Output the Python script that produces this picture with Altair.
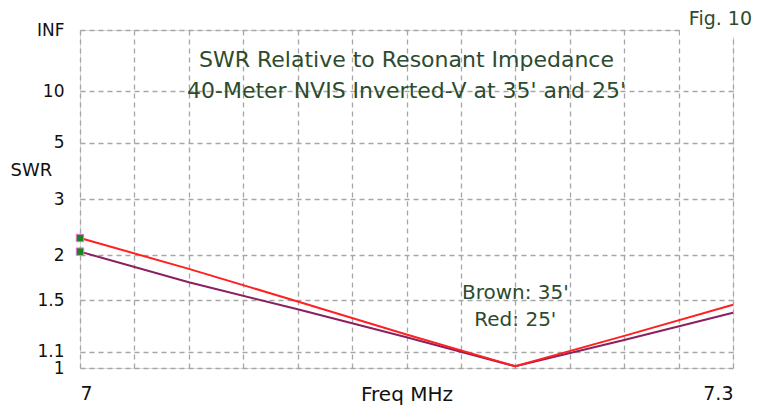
import altair as alt
import pandas as pd

# ---- data ----
freq = [7.0, 7.05, 7.1, 7.15, 7.2, 7.25, 7.3]
swr_35 = [2.05, 1.68, 1.42, 1.20, 1.01, 1.18, 1.39]   # brown
swr_25 = [2.25, 1.83, 1.49, 1.22, 1.01, 1.21, 1.46]   # red

swr_ticks = [1, 1.1, 1.5, 2, 3, 5, 10, "INF"]
grid_freqs = [7.0, 7.025, 7.05, 7.075, 7.1, 7.125, 7.15, 7.175, 7.2, 7.225, 7.25, 7.275, 7.3]

title_lines = ["SWR Relative to Resonant Impedance", "40-Meter NVIS Inverted-V at 35' and 25'"]
title_freq = [7.15, 7.15]
title_rho = [0.912, 0.820]

legend_lines = ["Brown: 35'", "Red: 25'"]
legend_freq = [7.2, 7.2]
legend_rho = [0.222, 0.141]

FONT = "DejaVu Sans"
GREEN_TXT = "#2d4b2d"
BROWN = "#8b1f5f"
RED = "#ff2020"
GRID = "#a6a6a6"

rho_ticks = [1.0 if s == "INF" else (s - 1) / (s + 1) for s in swr_ticks]

df35 = pd.DataFrame({"freq": freq, "swr": swr_35})
df25 = pd.DataFrame({"freq": freq, "swr": swr_25})
start = pd.DataFrame({"freq": [freq[0], freq[0]], "swr": [swr_35[0], swr_25[0]]})
titles = pd.DataFrame({"freq": title_freq, "rho": title_rho, "t": title_lines})
legend = pd.DataFrame({"freq": legend_freq, "rho": legend_rho, "t": legend_lines})
fig = pd.DataFrame({"t": ["Fig. 10"]})

xscale = alt.Scale(domain=[7.0, 7.3], nice=False, zero=False)
yscale = alt.Scale(domain=[0, 1], nice=False, zero=False)

x_axis = alt.Axis(
    values=grid_freqs, grid=True, gridColor=GRID, gridDash=[5, 4], gridWidth=1.3,
    ticks=False, domain=False,
    labelExpr="(datum.value < 7.001 || datum.value > 7.299) ? format(datum.value, '.1~f') : ''",
    labelFlush=True, labelFont=FONT, labelFontSize=19, labelColor="#111111",
    labelPadding=16, labelBaseline="top", labelOverlap=False,
    title="Freq MHz", titleFont=FONT, titleFontSize=20, titleFontWeight="normal",
    titleColor="#111111", titleY=16, titleBaseline="top",
)
y_axis = alt.Axis(
    values=rho_ticks, grid=True, gridColor=GRID, gridDash=[5, 4], gridWidth=1.3,
    ticks=False, domain=False,
    labelExpr="datum.value > 0.999 ? 'INF' : format((1 + datum.value) / (1 - datum.value), '.2~f')",
    labelFont=FONT, labelFontSize=17, labelColor="#111111", labelPadding=16,
    labelOverlap=False,
    title="SWR", titleFont=FONT, titleFontSize=18, titleFontWeight="normal",
    titleColor="#111111", titleAngle=0, titleX=-70, titleY=140,
    titleAlign="left", titleBaseline="middle",
)

X = alt.X("freq:Q", scale=xscale, axis=x_axis)
Y = alt.Y("rho:Q", scale=yscale, axis=y_axis)

rho_calc = "(datum.swr - 1) / (datum.swr + 1)"

brown_line = alt.Chart(df35).transform_calculate(rho=rho_calc).mark_line(
    color=BROWN, strokeWidth=2
).encode(x=X, y=Y)
red_line = alt.Chart(df25).transform_calculate(rho=rho_calc).mark_line(
    color=RED, strokeWidth=2
).encode(x=X, y=Y)
dots = alt.Chart(start).transform_calculate(rho=rho_calc).mark_point(
    shape="square", filled=True, size=55, color="#138a13", stroke="#f070f0",
    strokeWidth=1, opacity=1
).encode(x=X, y=Y)
title_txt = alt.Chart(titles).mark_text(
    font=FONT, fontSize=22, color=GREEN_TXT, align="center", baseline="middle"
).encode(x=X, y=Y, text="t:N")
legend_txt = alt.Chart(legend).mark_text(
    font=FONT, fontSize=20, color=GREEN_TXT, align="center", baseline="middle"
).encode(x=X, y=Y, text="t:N")
corner = alt.Chart(fig).mark_rect(color="white").encode(
    x=alt.value(600), x2=alt.value(690), y=alt.value(-30), y2=alt.value(7)
)
fig_txt = alt.Chart(fig).mark_text(
    font=FONT, fontSize=19, color=GREEN_TXT, align="right", baseline="middle"
).encode(x=alt.value(672), y=alt.value(-11), text="t:N")

chart = alt.layer(
    brown_line, red_line, dots, title_txt, legend_txt, corner, fig_txt
).properties(
    width=653, height=338,
    autosize=alt.AutoSizeParams(type="none"),
    padding={"left": 72, "top": 22, "right": 26, "bottom": 38},
).configure_view(
    stroke="#a0a0a0", strokeWidth=2
).configure(background="white")

chart.save("out.html", embed_options={"renderer": "svg", "actions": False})
